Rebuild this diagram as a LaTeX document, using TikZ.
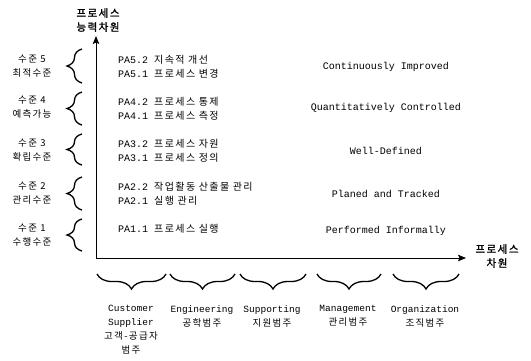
\documentclass[tikz,border=0pt]{standalone}
\usepackage{fontspec}
\setmainfont{Liberation Mono}
\newfontfamily\kr[LetterSpace=14]{Noto Sans CJK KR}
\newfontfamily\krb[LetterSpace=14,FakeBold=1.5]{Noto Sans CJK KR}
\usetikzlibrary{decorations.pathreplacing,arrows.meta}
\begin{document}
\begin{tikzpicture}[x=1pt,y=-1pt,
  every node/.style={inner sep=0pt, font=\fontsize{10}{14}\selectfont},
  axis/.style={line width=0.9pt, -{Stealth[length=8pt,width=6.5pt,inset=1.5pt]}},
  lbrace/.style={line width=1.3pt, decorate, decoration={brace, amplitude=15pt}},
  bbrace/.style={line width=1.3pt, decorate, decoration={brace, mirror, amplitude=15pt}},
  lvl/.style={align=center, font=\fontsize{9.5}{14}\selectfont\kr},
  pa/.style={anchor=west, align=left},
  kt/.style={font=\fontsize{10.5}{14}\selectfont\kr},
  eng/.style={font=\fontsize{10}{12}\selectfont},
  cat/.style={anchor=north, align=center, font=\fontsize{9.5}{14}\selectfont}]
\useasboundingbox (0,0) rectangle (531,360);

% axes
\coordinate (O) at (96,258);
\coordinate (Ytop) at (96,36);
\coordinate (Xend) at (466,258);
\draw[axis] (O) -- (Ytop);
\draw[axis] (O) -- (Xend);
\node[align=center, font=\fontsize{10.5}{14}\selectfont\krb] (ylab) at (98,20) {프로세스\\능력차원};
\node[align=center, font=\fontsize{10.5}{14}\selectfont\krb] (xlab) at (497,256) {프로세스\\차원};

% level labels
\node[lvl] (l5) at (32,66) {수준 5\\최적수준};
\node[lvl] (l4) at (32,107) {수준 4\\예측가능};
\node[lvl] (l3) at (32,150) {수준 3\\확립수준};
\node[lvl] (l2) at (32,193) {수준 2\\관리수준};
\node[lvl] (l1) at (32,235) {수준 1\\수행수준};

% left braces
\coordinate (b5a) at (82,83); \coordinate (b5b) at (82,49);
\coordinate (b4a) at (82,125); \coordinate (b4b) at (82,92);
\coordinate (b3a) at (82,165); \coordinate (b3b) at (82,134);
\coordinate (b2a) at (82,210); \coordinate (b2b) at (82,177);
\coordinate (b1a) at (82,251); \coordinate (b1b) at (82,219);
\draw[lbrace] (b5a) -- (b5b);
\draw[lbrace] (b4a) -- (b4b);
\draw[lbrace] (b3a) -- (b3b);
\draw[lbrace] (b2a) -- (b2b);
\draw[lbrace] (b1a) -- (b1b);

% process attributes
\node[pa] (pa52) at (118,60) {PA5.2 {\kr 지속적 개선}};
\node[pa] (pa51) at (118,74) {PA5.1 {\kr 프로세스 변경}};
\node[pa] (pa42) at (118,102) {PA4.2 {\kr 프로세스 통제}};
\node[pa] (pa41) at (118,116) {PA4.1 {\kr 프로세스 측정}};
\node[pa] (pa32) at (118,144) {PA3.2 {\kr 프로세스 자원}};
\node[pa] (pa31) at (118,158) {PA3.1 {\kr 프로세스 정의}};
\node[pa] (pa22) at (118,187) {PA2.2 {\kr 작업활동 산출물 관리}};
\node[pa] (pa21) at (118,201) {PA2.1 {\kr 실행 관리}};
\node[pa] (pa11) at (118,229) {PA1.1 {\kr 프로세스 실행}};

% english level names
\node[eng] (e5) at (386,67) {Continuously Improved};
\node[eng] (e4) at (386,108) {Quantitatively Controlled};
\node[eng] (e3) at (386,151) {Well-Defined};
\node[eng] (e2) at (386,194) {Planed and Tracked};
\node[eng] (e1) at (386,231) {Performed Informally};

% bottom braces
\coordinate (c1a) at (97,274); \coordinate (c1b) at (166,274);
\coordinate (c2a) at (170,274); \coordinate (c2b) at (235,274);
\coordinate (c3a) at (240,274); \coordinate (c3b) at (306,274);
\coordinate (c4a) at (317,274); \coordinate (c4b) at (381,274);
\coordinate (c5a) at (393,274); \coordinate (c5b) at (459,274);
\draw[bbrace] (c1a) -- (c1b);
\draw[bbrace] (c2a) -- (c2b);
\draw[bbrace] (c3a) -- (c3b);
\draw[bbrace] (c4a) -- (c4b);
\draw[bbrace] (c5a) -- (c5b);

% categories
\node[cat] (k1) at (131,305) {Customer\\Supplier\\{\kr 고객-공급자}\\{\kr 범주}};
\node[cat] (k2) at (202,305) {Engineering\\{\kr 공학범주}};
\node[cat] (k3) at (272,305) {Supporting\\{\kr 지원범주}};
\node[cat] (k4) at (348,305) {Management\\{\kr 관리범주}};
\node[cat] (k5) at (425,305) {Organization\\{\kr 조직범주}};
\end{tikzpicture}
\end{document}
